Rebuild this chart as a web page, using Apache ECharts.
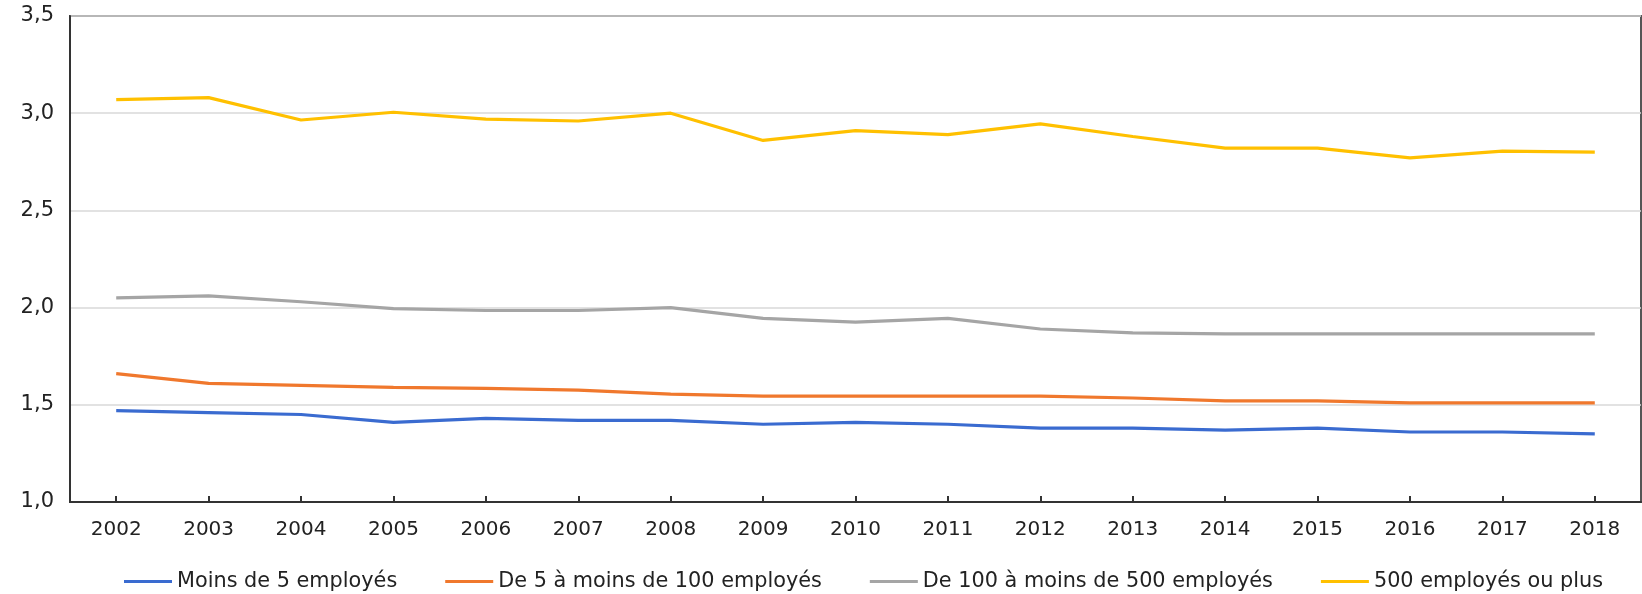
<!DOCTYPE html>
<html>
<head>
<meta charset="utf-8">
<script src="https://cdn.jsdelivr.net/npm/echarts@6/dist/echarts.min.js"></script>
<style>
html,body{margin:0;padding:0;background:#fff;}
#chart{width:1642px;height:594px;}
</style>
</head>
<body>
<div id="chart"></div>
<script>
const years = ['2002','2003','2004','2005','2006','2007','2008','2009','2010','2011','2012','2013','2014','2015','2016','2017','2018'];
const seriesNames = ['Moins de 5 employés','De 5 à moins de 100 employés','De 100 à moins de 500 employés','500 employés ou plus'];
const moins5 = [1.47,1.46,1.45,1.41,1.43,1.42,1.42,1.40,1.41,1.40,1.38,1.38,1.37,1.38,1.36,1.36,1.35];
const de5a100 = [1.66,1.61,1.60,1.59,1.585,1.575,1.555,1.545,1.545,1.545,1.545,1.535,1.52,1.52,1.51,1.51,1.51];
const de100a500 = [2.05,2.06,2.03,1.995,1.985,1.985,2.00,1.945,1.925,1.945,1.89,1.87,1.865,1.865,1.865,1.865,1.865];
const plus500 = [3.07,3.08,2.965,3.005,2.97,2.96,3.00,2.86,2.91,2.89,2.945,2.88,2.82,2.82,2.77,2.805,2.80];
const colors = ['#3A6BD0','#F0782D','#A5A5A5','#FFC000'];
const dataSets = [moins5, de5a100, de100a500, plus500];

const chart = echarts.init(document.getElementById('chart'));
const font = 'DejaVu Sans';
chart.setOption({
  animation:false,
  grid:{left:70,right:1,top:16,bottom:92,show:true,borderColor:'#555',borderWidth:2,backgroundColor:'transparent'},
  legend:{
    left:119, top:566, itemWidth:48, itemHeight:3, itemGap:48,
    icon:'rect',
    textStyle:{fontFamily:font,fontSize:20.8,color:'#222'},
    data:seriesNames
  },
  xAxis:{
    type:'category', data:years, boundaryGap:true,
    axisLine:{lineStyle:{color:'#333',width:2}},
    axisTick:{show:true,inside:true,alignWithLabel:true,length:6,lineStyle:{color:'#333',width:2}},
    axisLabel:{fontFamily:font,fontSize:20,color:'#222',margin:18},
    splitLine:{show:false}
  },
  yAxis:{
    type:'value', min:1, max:3.5, interval:0.5,
    axisLine:{show:true,lineStyle:{color:'#333',width:2}},
    axisTick:{show:false},
    axisLabel:{fontFamily:font,fontSize:21,color:'#222',margin:16,
      formatter:v=>v.toFixed(1).replace('.',',')},
    splitLine:{show:true,lineStyle:{color:'#d9d9d9',width:1.5}}
  },
  series: seriesNames.map((n,i)=>({
    name:n, type:'line', data:dataSets[i], symbol:'none',
    lineStyle:{color:colors[i],width:3.2}, itemStyle:{color:colors[i]}
  }))
});
</script>
</body>
</html>
